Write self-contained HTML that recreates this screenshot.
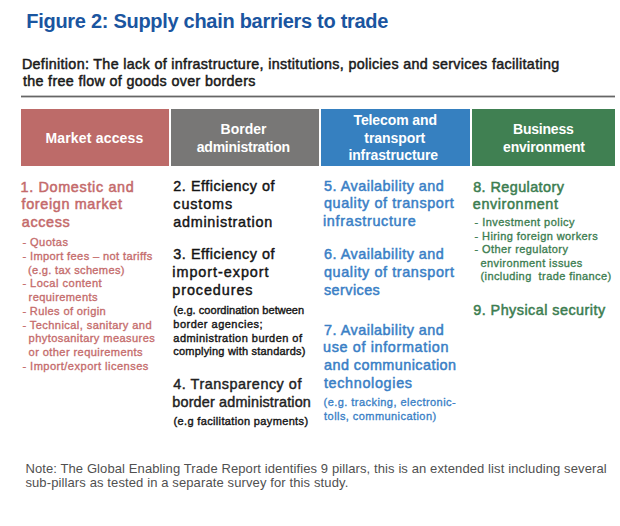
<!DOCTYPE html>
<html><head><meta charset="utf-8">
<style>
html,body{margin:0;padding:0;background:#fff;width:620px;height:526px;overflow:hidden}
body{position:relative;font-family:"Liberation Sans",sans-serif}
.t{position:absolute;white-space:nowrap;line-height:20px}
.bx{position:absolute;top:109px;height:57px}
.rule{position:absolute;left:21px;top:96px;width:594px;height:1px;background:#666666;box-shadow:0 -1px 0 #c4c4c4,0 1px 0 #c4c4c4}
</style></head><body>
<div class="rule"></div>
<div class="bx" style="left:21px;width:148px;background:#bd6b69"></div>
<div class="bx" style="left:171px;width:148px;background:#787776"></div>
<div class="bx" style="left:321px;width:149px;background:#3680c0"></div>
<div class="bx" style="left:472px;width:143px;background:#408052"></div>
<div class="t" style="left:26.30px;top:10.80px;font-size:20px;font-weight:700;color:#1a55a0;letter-spacing:-0.29px">Figure 2: Supply chain barriers to trade</div>
<div class="t" style="left:21.90px;top:53.80px;font-size:14.3px;font-weight:400;-webkit-text-stroke:0.50px currentColor;color:#1a1a1a;letter-spacing:0.343px">Definition: The lack of infrastructure, institutions, policies and services facilitating</div>
<div class="t" style="left:22.90px;top:71.10px;font-size:14.3px;font-weight:400;-webkit-text-stroke:0.50px currentColor;color:#1a1a1a;letter-spacing:0.341px">the free flow of goods over borders</div>
<div class="t" style="left:45.40px;top:127.80px;font-size:14.0px;font-weight:700;color:#ffffff;letter-spacing:0.183px">Market access</div>
<div class="t" style="left:220.60px;top:119.00px;font-size:14.0px;font-weight:700;color:#ffffff;letter-spacing:-0.02px">Border</div>
<div class="t" style="left:196.80px;top:136.60px;font-size:14.0px;font-weight:700;color:#ffffff;letter-spacing:-0.246px">administration</div>
<div class="t" style="left:353.50px;top:110.30px;font-size:14.0px;font-weight:700;color:#ffffff;letter-spacing:-0.11px">Telecom and</div>
<div class="t" style="left:364.30px;top:127.60px;font-size:14.0px;font-weight:700;color:#ffffff;letter-spacing:-0.062px">transport</div>
<div class="t" style="left:348.40px;top:144.50px;font-size:14.0px;font-weight:700;color:#ffffff;letter-spacing:-0.108px">infrastructure</div>
<div class="t" style="left:513.00px;top:118.90px;font-size:14.0px;font-weight:700;color:#ffffff;letter-spacing:-0.214px">Business</div>
<div class="t" style="left:503.10px;top:136.70px;font-size:14.0px;font-weight:700;color:#ffffff;letter-spacing:-0.21px">environment</div>
<div class="t" style="left:20.50px;top:176.50px;font-size:14.4px;font-weight:400;-webkit-text-stroke:0.50px currentColor;color:#c46a6b;letter-spacing:0.664px">1. Domestic and</div>
<div class="t" style="left:21.50px;top:194.00px;font-size:14.4px;font-weight:400;-webkit-text-stroke:0.50px currentColor;color:#c46a6b;letter-spacing:0.654px">foreign market</div>
<div class="t" style="left:21.80px;top:212.10px;font-size:14.4px;font-weight:400;-webkit-text-stroke:0.50px currentColor;color:#c46a6b;letter-spacing:0.64px">access</div>
<div class="t" style="left:22.40px;top:232.20px;font-size:11.1px;font-weight:400;-webkit-text-stroke:0.33px currentColor;color:#c56c6c;letter-spacing:0.429px">- Quotas</div>
<div class="t" style="left:22.40px;top:245.95px;font-size:11.1px;font-weight:400;-webkit-text-stroke:0.33px currentColor;color:#c56c6c;letter-spacing:0.377px">- Import fees – not tariffs</div>
<div class="t" style="left:27.90px;top:259.70px;font-size:11.1px;font-weight:400;-webkit-text-stroke:0.33px currentColor;color:#c56c6c;letter-spacing:0.312px">(e.g. tax schemes)</div>
<div class="t" style="left:22.40px;top:273.45px;font-size:11.1px;font-weight:400;-webkit-text-stroke:0.33px currentColor;color:#c56c6c;letter-spacing:0.464px">- Local content</div>
<div class="t" style="left:28.60px;top:287.20px;font-size:11.1px;font-weight:400;-webkit-text-stroke:0.33px currentColor;color:#c56c6c;letter-spacing:0.373px">requirements</div>
<div class="t" style="left:22.40px;top:300.95px;font-size:11.1px;font-weight:400;-webkit-text-stroke:0.33px currentColor;color:#c56c6c;letter-spacing:0.35px">- Rules of origin</div>
<div class="t" style="left:22.40px;top:314.70px;font-size:11.1px;font-weight:400;-webkit-text-stroke:0.33px currentColor;color:#c56c6c;letter-spacing:0.408px">- Technical, sanitary and</div>
<div class="t" style="left:28.60px;top:328.45px;font-size:11.1px;font-weight:400;-webkit-text-stroke:0.33px currentColor;color:#c56c6c;letter-spacing:0.4px">phytosanitary measures</div>
<div class="t" style="left:28.60px;top:342.20px;font-size:11.1px;font-weight:400;-webkit-text-stroke:0.33px currentColor;color:#c56c6c;letter-spacing:0.4px">or other requirements</div>
<div class="t" style="left:22.40px;top:355.95px;font-size:11.1px;font-weight:400;-webkit-text-stroke:0.33px currentColor;color:#c56c6c;letter-spacing:0.465px">- Import/export licenses</div>
<div class="t" style="left:173.30px;top:176.40px;font-size:14.4px;font-weight:400;-webkit-text-stroke:0.43px currentColor;color:#141414;letter-spacing:0.527px">2. Efficiency of</div>
<div class="t" style="left:173.30px;top:193.90px;font-size:14.4px;font-weight:400;-webkit-text-stroke:0.43px currentColor;color:#141414;letter-spacing:0.883px">customs</div>
<div class="t" style="left:173.30px;top:212.00px;font-size:14.4px;font-weight:400;-webkit-text-stroke:0.43px currentColor;color:#141414;letter-spacing:0.715px">administration</div>
<div class="t" style="left:173.30px;top:244.30px;font-size:14.4px;font-weight:400;-webkit-text-stroke:0.43px currentColor;color:#141414;letter-spacing:0.527px">3. Efficiency of</div>
<div class="t" style="left:172.30px;top:262.40px;font-size:14.4px;font-weight:400;-webkit-text-stroke:0.43px currentColor;color:#141414;letter-spacing:0.958px">import-export</div>
<div class="t" style="left:172.30px;top:280.00px;font-size:14.4px;font-weight:400;-webkit-text-stroke:0.43px currentColor;color:#141414;letter-spacing:0.911px">procedures</div>
<div class="t" style="left:173.50px;top:300.00px;font-size:11.0px;font-weight:400;-webkit-text-stroke:0.39px currentColor;color:#141414;letter-spacing:0.04px">(e.g. coordination between</div>
<div class="t" style="left:173.30px;top:313.80px;font-size:11.0px;font-weight:400;-webkit-text-stroke:0.39px currentColor;color:#141414;letter-spacing:0.487px">border agencies;</div>
<div class="t" style="left:173.30px;top:327.50px;font-size:11.0px;font-weight:400;-webkit-text-stroke:0.39px currentColor;color:#141414;letter-spacing:0.465px">administration burden of</div>
<div class="t" style="left:173.30px;top:340.90px;font-size:11.0px;font-weight:400;-webkit-text-stroke:0.39px currentColor;color:#141414;letter-spacing:0.204px">complying with standards)</div>
<div class="t" style="left:173.30px;top:374.40px;font-size:14.4px;font-weight:400;-webkit-text-stroke:0.43px currentColor;color:#222222;letter-spacing:0.524px">4. Transparency of</div>
<div class="t" style="left:172.30px;top:392.00px;font-size:14.4px;font-weight:400;-webkit-text-stroke:0.43px currentColor;color:#222222;letter-spacing:0.17px">border administration</div>
<div class="t" style="left:173.50px;top:411.10px;font-size:11.0px;font-weight:400;-webkit-text-stroke:0.39px currentColor;color:#141414;letter-spacing:0.354px">(e.g facilitation payments)</div>
<div class="t" style="left:324.00px;top:175.60px;font-size:14.4px;font-weight:400;-webkit-text-stroke:0.50px currentColor;color:#3a7fc6;letter-spacing:0.494px">5. Availability and</div>
<div class="t" style="left:324.00px;top:193.10px;font-size:14.4px;font-weight:400;-webkit-text-stroke:0.50px currentColor;color:#3a7fc6;letter-spacing:0.6px">quality of transport</div>
<div class="t" style="left:323.00px;top:211.00px;font-size:14.4px;font-weight:400;-webkit-text-stroke:0.50px currentColor;color:#3a7fc6;letter-spacing:0.677px">infrastructure</div>
<div class="t" style="left:324.00px;top:244.00px;font-size:14.4px;font-weight:400;-webkit-text-stroke:0.50px currentColor;color:#3a7fc6;letter-spacing:0.494px">6. Availability and</div>
<div class="t" style="left:324.00px;top:262.10px;font-size:14.4px;font-weight:400;-webkit-text-stroke:0.50px currentColor;color:#3a7fc6;letter-spacing:0.605px">quality of transport</div>
<div class="t" style="left:324.00px;top:280.00px;font-size:14.4px;font-weight:400;-webkit-text-stroke:0.50px currentColor;color:#3a7fc6;letter-spacing:0.429px">services</div>
<div class="t" style="left:324.00px;top:320.00px;font-size:14.4px;font-weight:400;-webkit-text-stroke:0.50px currentColor;color:#3a7fc6;letter-spacing:0.494px">7. Availability and</div>
<div class="t" style="left:323.00px;top:337.20px;font-size:14.4px;font-weight:400;-webkit-text-stroke:0.50px currentColor;color:#3a7fc6;letter-spacing:0.647px">use of information</div>
<div class="t" style="left:324.00px;top:355.10px;font-size:14.4px;font-weight:400;-webkit-text-stroke:0.50px currentColor;color:#3a7fc6;letter-spacing:0.45px">and communication</div>
<div class="t" style="left:323.90px;top:373.20px;font-size:14.4px;font-weight:400;-webkit-text-stroke:0.50px currentColor;color:#3a7fc6;letter-spacing:0.664px">technologies</div>
<div class="t" style="left:323.60px;top:392.20px;font-size:11.0px;font-weight:400;-webkit-text-stroke:0.33px currentColor;color:#3a7fc6;letter-spacing:0.446px">(e.g. tracking, electronic-</div>
<div class="t" style="left:324.10px;top:405.60px;font-size:11.0px;font-weight:400;-webkit-text-stroke:0.33px currentColor;color:#3a7fc6;letter-spacing:0.435px">tolls, communication)</div>
<div class="t" style="left:473.20px;top:176.70px;font-size:14.4px;font-weight:400;-webkit-text-stroke:0.50px currentColor;color:#3c7d50;letter-spacing:0.425px">8. Regulatory</div>
<div class="t" style="left:472.80px;top:193.70px;font-size:14.4px;font-weight:400;-webkit-text-stroke:0.50px currentColor;color:#3c7d50;letter-spacing:0.59px">environment</div>
<div class="t" style="left:474.50px;top:212.20px;font-size:11.0px;font-weight:400;-webkit-text-stroke:0.33px currentColor;color:#3c7d50;letter-spacing:0.461px">- Investment policy</div>
<div class="t" style="left:474.50px;top:225.60px;font-size:11.0px;font-weight:400;-webkit-text-stroke:0.33px currentColor;color:#3c7d50;letter-spacing:0.413px">- Hiring foreign workers</div>
<div class="t" style="left:474.50px;top:239.30px;font-size:11.0px;font-weight:400;-webkit-text-stroke:0.33px currentColor;color:#3c7d50;letter-spacing:0.424px">- Other regulatory</div>
<div class="t" style="left:480.50px;top:252.70px;font-size:11.0px;font-weight:400;-webkit-text-stroke:0.33px currentColor;color:#3c7d50;letter-spacing:0.418px">environment issues</div>
<div class="t" style="left:480.50px;top:266.20px;font-size:11.0px;font-weight:400;-webkit-text-stroke:0.33px currentColor;color:#3c7d50;letter-spacing:0.408px">(including &nbsp;trade finance)</div>
<div class="t" style="left:473.20px;top:299.70px;font-size:14.4px;font-weight:400;-webkit-text-stroke:0.50px currentColor;color:#3c7d50;letter-spacing:0.463px">9. Physical security</div>
<div class="t" style="left:25.40px;top:458.90px;font-size:13.0px;font-weight:400;color:#505050;letter-spacing:0.104px">Note: The Global Enabling Trade Report identifies 9 pillars, this is an extended list including several</div>
<div class="t" style="left:25.40px;top:473.10px;font-size:13.0px;font-weight:400;color:#505050;letter-spacing:0.116px">sub-pillars as tested in a separate survey for this study.</div>
</body></html>
